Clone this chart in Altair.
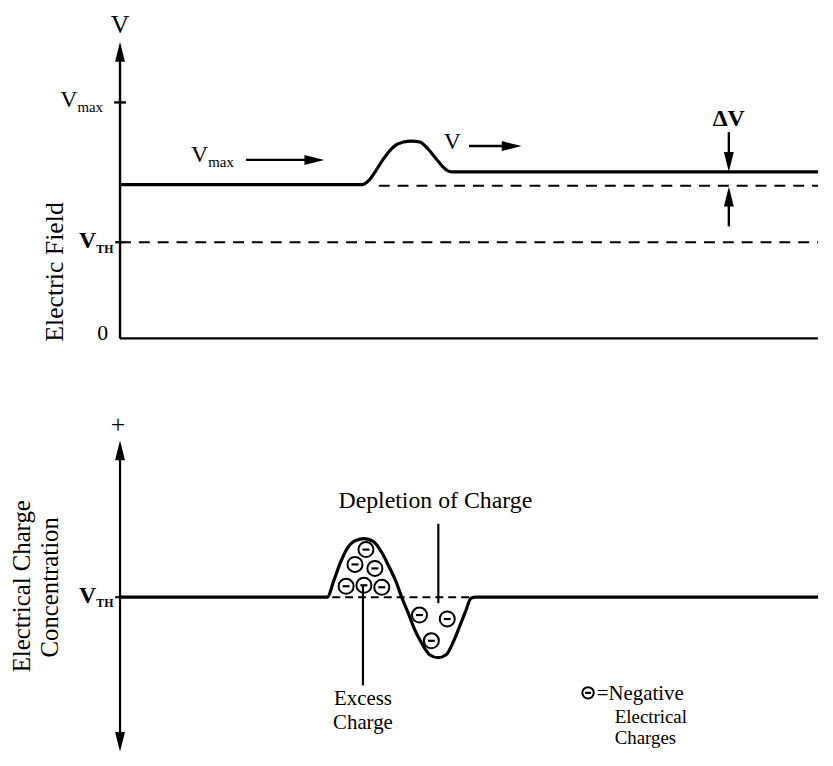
import altair as alt
import pandas as pd

FONT = "Liberation Serif"
ARROW = "M0,0 L-0.5,2 L0.5,2 Z"   # arrow head, tip at the origin, pointing up

# ---------------- top panel : Electric Field ----------------
# x : position along the device (0 = axis, 100 = right edge); y : field, arbitrary units
TOP_X_DOMAIN = [-16.05, 100]
TOP_Y_DOMAIN = [-0.54, 3.28]

FIELD_X = [0, 34.66, 35.61, 36.55, 37.74, 39.16, 40.58, 41.76, 42.94, 44.13, 45.31, 46.26, 46.97, 47.44, 100]
FIELD_Y = [1.55, 1.55, 1.59, 1.68, 1.81, 1.93, 1.98, 1.99, 1.98, 1.91, 1.81, 1.73, 1.69, 1.68, 1.68]

V_MAX = 2.38
V_TH = 0.97
OLD_LEVEL = 1.54

TOP_SOLID_X = [0, 0, -0.85, -0.7, 18.04, 50.0, 87.22, 87.22]
TOP_SOLID_Y = [0, 0, V_MAX, V_TH, 1.80, 1.94, 2.08, 1.13]
TOP_SOLID_X2 = [0, 100, 0.85, 0.7, 27.6, 55.6, 87.22, 87.22]
TOP_SOLID_Y2 = [2.80, 0, V_MAX, V_TH, 1.80, 1.94, 1.86, 1.35]

TOP_DASH_X = [37.07, 0]
TOP_DASH_Y = [OLD_LEVEL, V_TH]
TOP_DASH_X2 = [100, 100]
TOP_DASH_Y2 = [OLD_LEVEL, V_TH]

TOP_ARROW_X = [0, 29.26, 57.53, 87.22, 87.22]
TOP_ARROW_Y = [2.99, 1.80, 1.94, 1.68, 1.53]
TOP_ARROW_ANGLE = [0, 90, 90, 180, 0]

TOP_TEXT = ["V", "V", "max", "V", "TH", "0", "Electric Field", "V", "max", "V", "ΔV"]
TOP_TEXT_X = [0, -6.11, -6.11, -3.41, -3.41, -1.7, -9.37, 12.64, 12.64, 47.6, 87.2]
TOP_TEXT_Y = [3.16, 2.33, 2.28, 0.91, 0.86, -0.02, 0.67, 1.78, 1.73, 1.91, 2.14]
TOP_TEXT_SIZE = [26, 24, 15, 24, 12, 22, 26, 24, 15, 24, 24]
TOP_TEXT_ANGLE = [0, 0, 0, 0, 0, 0, 270, 0, 0, 0, 0]
TOP_TEXT_ALIGN = ["center", "right", "left", "right", "left", "right", "center", "right", "left", "center", "center"]
TOP_TEXT_BASE = ["middle", "alphabetic", "alphabetic", "alphabetic", "alphabetic", "alphabetic", "middle",
                 "alphabetic", "alphabetic", "alphabetic", "alphabetic"]
TOP_TEXT_WEIGHT = ["normal", "normal", "normal", "bold", "bold", "normal", "normal", "normal", "normal", "normal", "bold"]

# ---------------- bottom panel : Electrical Charge Concentration ----------------
BOT_X_DOMAIN = [-16.05, 100]
BOT_Y_DOMAIN = [-1.61, 2.07]

CHARGE_X = [0, 29.69, 30.64, 31.58, 32.53, 33.71, 34.99, 36.32, 37.50, 38.45, 39.63, 40.34, 41.29,
            42.23, 43.18, 44.36, 45.55, 46.73, 47.68, 48.62, 49.57, 50.28, 50.99, 100]
CHARGE_Y = [0, 0, 0.17, 0.35, 0.49, 0.57, 0.59, 0.56, 0.45, 0.32, 0.14, 0.0, -0.16,
            -0.33, -0.46, -0.58, -0.61, -0.58, -0.46, -0.30, -0.13, -0.01, 0, 0]

BOT_SOLID_X = [0, -0.7, 45.6, 34.8]
BOT_SOLID_Y = [-1.38, 0, 0.74, 0.12]
BOT_SOLID_X2 = [0, 0.7, 45.6, 34.8]
BOT_SOLID_Y2 = [1.40, 0, -0.06, -0.89]

BOT_DASH_X = [30.4]
BOT_DASH_Y = [0]
BOT_DASH_X2 = [50.3]
BOT_DASH_Y2 = [0]

BOT_ARROW_X = [0, 0]
BOT_ARROW_Y = [1.58, -1.56]
BOT_ARROW_ANGLE = [0, 180]

CHARGE_DOT_X = [35.23, 33.66, 36.51, 32.39, 34.94, 37.50, 42.90, 46.88, 44.60]
CHARGE_DOT_Y = [0.48, 0.33, 0.29, 0.11, 0.12, 0.10, -0.18, -0.22, -0.44]
LEGEND_DOT_X = [67.05]
LEGEND_DOT_Y = [-0.965]

BOT_TEXT = ["+", "V", "TH", "Depletion of Charge", "Excess", "Charge", "=Negative", "Electrical",
            "Charges", "Electrical Charge", "Concentration"]
BOT_TEXT_X = [-0.28, -3.41, -3.41, 45.17, 34.8, 34.8, 68.3, 70.88, 70.88, -14.06, -10.09]
BOT_TEXT_Y = [1.74, -0.06, -0.10, 0.90, -1.09, -1.33, -1.04, -1.265, -1.485, 0.11, 0.10]
BOT_TEXT_SIZE = [26, 24, 12, 24, 21, 21, 21, 19, 19, 25, 25]
BOT_TEXT_ANGLE = [0, 0, 0, 0, 0, 0, 0, 0, 0, 270, 270]
BOT_TEXT_ALIGN = ["center", "right", "left", "center", "center", "center", "left", "left", "left", "center", "center"]
BOT_TEXT_BASE = ["middle", "alphabetic", "alphabetic", "alphabetic", "alphabetic", "alphabetic", "alphabetic",
                 "alphabetic", "alphabetic", "middle", "middle"]
BOT_TEXT_WEIGHT = ["normal", "bold", "bold", "normal", "normal", "normal", "normal", "normal", "normal",
                   "normal", "normal"]


def enc_xy(xd, yd):
    x = alt.X("u:Q", scale=alt.Scale(domain=xd, nice=False, zero=False), axis=None)
    y = alt.Y("v:Q", scale=alt.Scale(domain=yd, nice=False, zero=False), axis=None)
    return x, y


def curve(xs, ys, xd, yd, width):
    x, y = enc_xy(xd, yd)
    df = pd.DataFrame({"u": xs, "v": ys, "i": range(len(xs))})
    return alt.Chart(df).mark_line(color="black", strokeWidth=width, interpolate="monotone").encode(
        x=x, y=y, order="i:Q")


def segments(xs, ys, x2s, y2s, xd, yd, width, dash=None):
    x, y = enc_xy(xd, yd)
    df = pd.DataFrame({"u": xs, "v": ys, "u2": x2s, "v2": y2s})
    kw = dict(color="black", strokeWidth=width)
    if dash:
        kw["strokeDash"] = dash
    return alt.Chart(df).mark_rule(**kw).encode(x=x, y=y, x2="u2:Q", y2="v2:Q")


def arrows(xs, ys, angles, xd, yd):
    x, y = enc_xy(xd, yd)
    df = pd.DataFrame({"u": xs, "v": ys, "a": angles})
    return alt.Chart(df).mark_point(shape=ARROW, filled=True, color="black", opacity=1,
                                    size=400, strokeWidth=0).encode(
        x=x, y=y, angle=alt.Angle("a:Q", scale=None))


def dots(xs, ys, xd, yd, size, minus):
    x, y = enc_xy(xd, yd)
    df = pd.DataFrame({"u": xs, "v": ys})
    ring = alt.Chart(df).mark_point(shape="circle", filled=False, color="black", opacity=1,
                                    size=size, strokeWidth=2).encode(x=x, y=y)
    bar = alt.Chart(df).mark_point(shape="M-1,0 L1,0", filled=False, color="black", opacity=1,
                                   size=minus, strokeWidth=2.2).encode(x=x, y=y)
    return [ring, bar]


def texts(labels, xs, ys, sizes, angles, aligns, bases, weights, xd, yd):
    x, y = enc_xy(xd, yd)
    df = pd.DataFrame({"t": labels, "u": xs, "v": ys, "s": sizes, "a": angles,
                       "al": aligns, "b": bases, "w": weights})
    layers = []
    for (al, b, w), g in df.groupby(["al", "b", "w"]):
        layers.append(alt.Chart(g).mark_text(font=FONT, color="black", align=al, baseline=b,
                                             fontWeight=w).encode(
            x=x, y=y, text="t:N", size=alt.Size("s:Q", scale=None),
            angle=alt.Angle("a:Q", scale=None)))
    return layers


top_layers = [
    segments(TOP_DASH_X, TOP_DASH_Y, TOP_DASH_X2, TOP_DASH_Y2, TOP_X_DOMAIN, TOP_Y_DOMAIN, 2, [11, 8]),
    segments(TOP_SOLID_X, TOP_SOLID_Y, TOP_SOLID_X2, TOP_SOLID_Y2, TOP_X_DOMAIN, TOP_Y_DOMAIN, 2.4),
    curve(FIELD_X, FIELD_Y, TOP_X_DOMAIN, TOP_Y_DOMAIN, 3.2),
    arrows(TOP_ARROW_X, TOP_ARROW_Y, TOP_ARROW_ANGLE, TOP_X_DOMAIN, TOP_Y_DOMAIN),
] + texts(TOP_TEXT, TOP_TEXT_X, TOP_TEXT_Y, TOP_TEXT_SIZE, TOP_TEXT_ANGLE, TOP_TEXT_ALIGN,
          TOP_TEXT_BASE, TOP_TEXT_WEIGHT, TOP_X_DOMAIN, TOP_Y_DOMAIN)

bot_layers = [
    segments(BOT_DASH_X, BOT_DASH_Y, BOT_DASH_X2, BOT_DASH_Y2, BOT_X_DOMAIN, BOT_Y_DOMAIN, 2, [8, 5]),
    segments(BOT_SOLID_X, BOT_SOLID_Y, BOT_SOLID_X2, BOT_SOLID_Y2, BOT_X_DOMAIN, BOT_Y_DOMAIN, 2.2),
    curve(CHARGE_X, CHARGE_Y, BOT_X_DOMAIN, BOT_Y_DOMAIN, 3.2),
    arrows(BOT_ARROW_X, BOT_ARROW_Y, BOT_ARROW_ANGLE, BOT_X_DOMAIN, BOT_Y_DOMAIN),
] + dots(CHARGE_DOT_X, CHARGE_DOT_Y, BOT_X_DOMAIN, BOT_Y_DOMAIN, 230, 49) \
  + dots(LEGEND_DOT_X, LEGEND_DOT_Y, BOT_X_DOMAIN, BOT_Y_DOMAIN, 133, 36) \
  + texts(BOT_TEXT, BOT_TEXT_X, BOT_TEXT_Y, BOT_TEXT_SIZE, BOT_TEXT_ANGLE, BOT_TEXT_ALIGN,
          BOT_TEXT_BASE, BOT_TEXT_WEIGHT, BOT_X_DOMAIN, BOT_Y_DOMAIN)

top = alt.layer(*top_layers).properties(width=817, height=382)
bottom = alt.layer(*bot_layers).properties(width=817, height=368)

chart = alt.vconcat(top, bottom, spacing=0).properties(
    padding=0, background="white"
).configure_view(strokeOpacity=0)

chart.save("out.html", embed_options={"renderer": "svg", "actions": False})
